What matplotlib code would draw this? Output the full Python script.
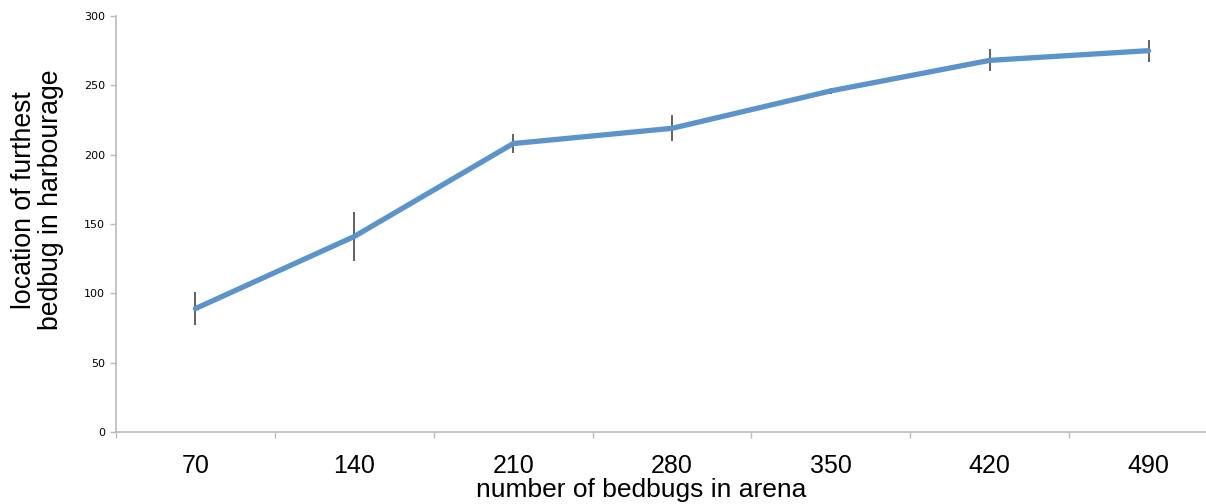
#!/usr/bin/env python3
import matplotlib
matplotlib.use('Agg')
import matplotlib.pyplot as plt

# data
bedbugs = ['70', '140', '210', '280', '350', '420', '490']
location = [89, 141, 208, 219, 246, 268, 275]
error = [12, 18, 7, 9.5, 2, 8, 8]

plt.rcParams['font.family'] = ['Liberation Sans', 'DejaVu Sans']

fig = plt.figure(figsize=(12.06, 5.04), dpi=100)
# axes runs past the right edge like the cropped original
ax = fig.add_axes([116/1206, 72/504, 1112/1206, 416/504])

x = list(range(len(bedbugs)))
ax.errorbar(x, location, yerr=error, fmt='none', ecolor='#555555', elinewidth=1.3, capsize=0, zorder=1)
ax.plot(x, location, color='#5b93cb', linewidth=3.8, solid_capstyle='round', solid_joinstyle='round', zorder=2)

ax.set_xlim(-0.5, len(bedbugs) - 0.5)
ax.set_ylim(0, 300)
ax.set_yticks(range(0, 301, 50))
ax.set_xticks(x)
ax.set_xticklabels(bedbugs, fontsize=18)
ax.set_xticks([i + 0.5 for i in range(-1, len(bedbugs))], minor=True)
ax.tick_params(axis='x', which='major', length=0, pad=16)
ax.tick_params(axis='x', which='minor', length=4, color='#bbbbbb', width=1)
ax.tick_params(axis='y', length=4, color='#bbbbbb', width=1, labelsize=8, pad=4)
for lbl in ax.get_yticklabels():
    lbl.set_family('DejaVu Sans')

for side in ['top', 'right']:
    ax.spines[side].set_visible(False)
for side in ['left', 'bottom']:
    ax.spines[side].set_color('#bbbbbb')
    ax.spines[side].set_linewidth(1.2)

ax.set_xlabel('number of bedbugs in arena', fontsize=19)
ax.xaxis.set_label_coords(0.472, -0.11)
ax.set_ylabel('location of furthest\nbedbug in harbourage', fontsize=19.2, linespacing=1.04)
ax.yaxis.set_label_coords(-0.047, 0.558)

fig.savefig('out.png', dpi=100)
